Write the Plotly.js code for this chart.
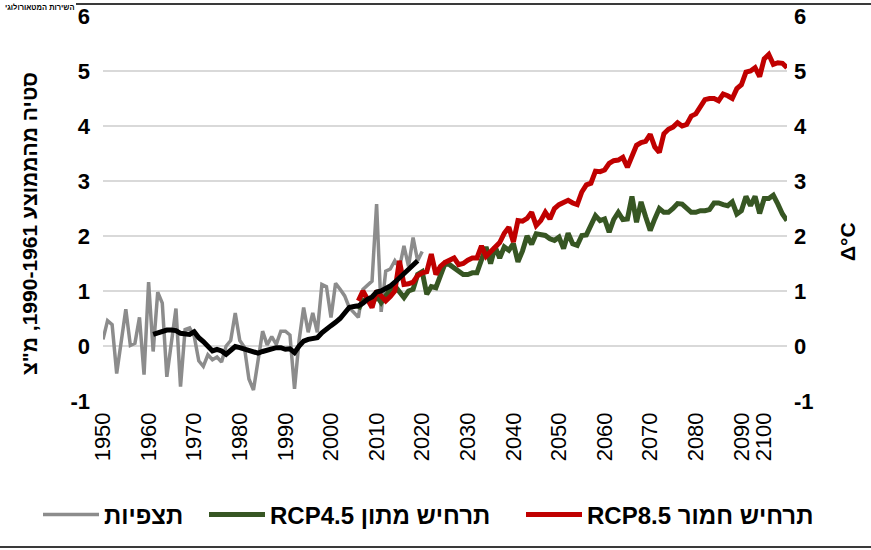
<!DOCTYPE html>
<html>
<head>
<meta charset="utf-8">
<script src="https://cdn.plot.ly/plotly-3.0.1.min.js"></script>
<style>html,body{margin:0;padding:0;background:#fff;}#chart{width:871px;height:550px;}</style>
</head>
<body>
<div id="chart"></div>
<script>
// Observations (deviation from 1961-1990 mean, °C)
const obsYears = [];
for (let y = 1950; y <= 2020; y++) obsYears.push(y);
const obsValues = [0.12,0.46,0.39,-0.50,0.08,0.67,0.01,0.05,0.52,-0.52,
  1.16,-0.10,0.98,0.78,-0.56,0.05,0.68,-0.74,0.30,0.33,
  0.18,-0.27,-0.37,-0.16,-0.25,-0.20,-0.29,0.00,0.10,0.60,
  0.10,-0.02,-0.60,-0.80,-0.30,0.27,0.02,0.17,0.03,0.27,
  0.27,0.20,-0.78,0.10,0.70,0.25,0.60,0.25,1.12,1.08,
  0.52,1.14,1.03,0.91,0.70,0.62,0.52,1.03,1.10,1.18,
  2.58,0.62,1.36,1.40,1.55,1.42,1.82,1.45,1.97,1.55,1.72];

// Smoothed observations (black line)
const smoothYears = [];
for (let y = 1961; y <= 2019; y++) smoothYears.push(y);
const smoothValues = [0.21,0.24,0.28,0.29,0.29,0.28,0.23,0.21,0.21,
  0.26,0.15,0.08,0.00,-0.09,-0.06,-0.09,-0.15,-0.07,-0.01,
  -0.03,-0.06,-0.09,-0.12,-0.13,-0.10,-0.07,-0.05,-0.03,-0.03,
  -0.06,-0.05,-0.12,0.00,0.09,0.12,0.14,0.15,0.24,0.32,
  0.37,0.43,0.50,0.60,0.70,0.72,0.73,0.78,0.85,0.89,
  0.98,1.00,1.04,1.09,1.16,1.24,1.33,1.42,1.50,1.55];

// Projections
const projYears = [];
for (let y = 2006; y <= 2100; y++) projYears.push(y);
const rcp45 = [0.67,0.82,0.85,0.76,
  0.91,0.79,0.91,1.03,1.09,1.00,0.88,1.00,1.03,1.30,
  1.35,0.94,1.08,1.06,1.30,1.50,1.48,1.42,1.35,1.30,
  1.30,1.33,1.33,1.60,1.80,1.50,1.80,1.60,1.80,1.74,
  1.86,1.53,1.73,2.00,1.85,2.04,2.02,2.01,1.95,1.92,
  1.98,1.77,2.05,1.86,1.83,2.01,2.02,2.20,2.37,2.28,
  2.31,2.07,2.30,2.43,2.30,2.31,2.72,2.25,2.62,2.35,
  2.10,2.31,2.50,2.43,2.43,2.50,2.59,2.58,2.50,2.43,
  2.43,2.46,2.46,2.48,2.60,2.60,2.57,2.55,2.62,2.40,
  2.46,2.72,2.55,2.72,2.41,2.68,2.68,2.74,2.58,2.40,2.28];
const rcp85 = [0.82,1.00,0.85,0.70,
  1.00,0.92,0.82,0.90,1.00,1.55,1.12,1.13,1.16,1.28,
  1.33,1.35,1.67,1.30,1.45,1.52,1.56,1.60,1.48,1.50,
  1.56,1.60,1.60,1.82,1.63,1.72,1.80,1.88,2.05,2.16,
  1.89,2.28,2.27,2.32,2.43,2.19,2.28,2.43,2.31,2.50,
  2.57,2.60,2.65,2.60,2.57,2.80,2.93,2.96,3.18,3.17,
  3.20,3.32,3.37,3.38,3.43,3.25,3.48,3.65,3.70,3.72,
  3.85,3.62,3.52,3.86,3.94,3.98,4.06,4.00,4.03,4.18,
  4.22,4.35,4.48,4.50,4.50,4.46,4.58,4.55,4.50,4.68,
  4.75,4.98,5.00,5.06,4.90,5.22,5.30,5.12,5.15,5.14,5.06];

// Tick labels
const xTickVals = [1950,1960,1970,1980,1990,2000,2010,2020,2030,2040,2050,2060,2070,2080,2090,2095];
const xTickText = ['1950','1960','1970','1980','1990','2000','2010','2020','2030','2040','2050','2060','2070','2080','2090','2100'];
const yTickVals = [-1,0,1,2,3,4,5,6];
const yTickText = ['-1','0','1','2','3','4','5','6'];

const names = {obs: 'תצפיות', rcp45: 'RCP4.5 תרחיש מתון', rcp85: 'RCP8.5 תרחיש חמור'};
const yTitle = '\u202Bסטיה מהממוצע 1990-1961, מ"צ\u202C';
const y2Title = 'Δ°C';
const source = '\u202Bהשירות המטאורולוגי\u202C';

const FONT = 'Liberation Sans, Arial, sans-serif';

const traces = [
  {x: obsYears, y: obsValues, type: 'scatter', mode: 'lines', name: names.obs, legend: 'legend',
   line: {color: '#8c8c8c', width: 3.5}},
  {x: projYears, y: rcp45, type: 'scatter', mode: 'lines', name: names.rcp45, legend: 'legend2',
   line: {color: '#375623', width: 5}},
  {x: projYears, y: rcp85, type: 'scatter', mode: 'lines', name: names.rcp85, legend: 'legend3',
   line: {color: '#c00000', width: 5}},
  {x: smoothYears, y: smoothValues, type: 'scatter', mode: 'lines', showlegend: false,
   line: {color: '#000000', width: 5}}
];

const L = 103, R = 787, T = 16, B = 401, W = 871, H = 550;
const px = v => (v - L) / (R - L);
const py = v => (B - v) / (B - T);

const legendFont = {size: 24, weight: 'bold', family: FONT, color: '#000'};
const mkLegend = left => ({orientation: 'h', xref: 'paper', yref: 'paper', x: px(left), xanchor: 'left',
  y: py(515), yanchor: 'middle', font: legendFont, itemwidth: 56, bgcolor: 'rgba(0,0,0,0)'});

const layout = {
  width: W, height: H,
  paper_bgcolor: '#ffffff', plot_bgcolor: '#ffffff',
  margin: {l: L, r: W - R, t: T, b: H - B, pad: 0},
  font: {family: FONT, color: '#000'},
  showlegend: true,
  legend: mkLegend(38),
  legend2: mkLegend(204),
  legend3: mkLegend(521),
  xaxis: {range: [1950, 2100], tickvals: xTickVals, ticktext: xTickText, tickangle: -90,
          showgrid: false, zeroline: false, showline: false, ticks: '',
          tickfont: {size: 22, family: FONT, color: '#000'}, ticklabelstandoff: 6, fixedrange: true},
  yaxis: {range: [-1, 6], tickvals: yTickVals, ticktext: yTickText, showgrid: true, gridcolor: '#d9d9d9', gridwidth: 1.5,
          zeroline: false, showline: false, ticks: '',
          tickfont: {size: 22, weight: 'bold', family: FONT, color: '#000'}, ticklabelstandoff: 12},
  yaxis2: {range: [-1, 6], tickvals: yTickVals, ticktext: yTickText, overlaying: 'y', side: 'right', showgrid: false,
          zeroline: false, showline: false, ticks: '',
          tickfont: {size: 22, weight: 'bold', family: FONT, color: '#000'}, ticklabelstandoff: 6},
  annotations: [
    {text: yTitle, xref: 'paper', yref: 'paper', x: px(30), y: py(224), textangle: -90,
     showarrow: false, xanchor: 'center', yanchor: 'middle',
     font: {size: 21, weight: 'bold', family: FONT, color: '#000'}},
    {text: y2Title, xref: 'paper', yref: 'paper', x: px(847), y: py(242), textangle: -90,
     showarrow: false, xanchor: 'center', yanchor: 'middle',
     font: {size: 21, weight: 'bold', family: FONT, color: '#000'}},
    {text: source, xref: 'paper', yref: 'paper', x: px(76), y: py(1), xanchor: 'right', yanchor: 'top',
     showarrow: false, font: {size: 7.5, weight: 'bold', family: FONT, color: '#000'}}
  ],
  shapes: [
    {type: 'line', xref: 'paper', yref: 'paper', x0: px(76), x1: px(871), y0: py(4), y1: py(4),
     line: {color: '#3a3a3a', width: 2}},
    {type: 'line', xref: 'paper', yref: 'paper', x0: px(0), x1: px(871), y0: py(547), y1: py(547),
     line: {color: '#3a3a3a', width: 2}}
  ]
};

// anchor the right axis with an invisible trace so it is drawn
traces.push({x: [1950], y: [0], yaxis: 'y2', type: 'scatter', mode: 'lines', showlegend: false,
             hoverinfo: 'skip', line: {width: 0}});

Plotly.newPlot('chart', traces, layout, {staticPlot: true, displayModeBar: false});
</script>
</body>
</html>
